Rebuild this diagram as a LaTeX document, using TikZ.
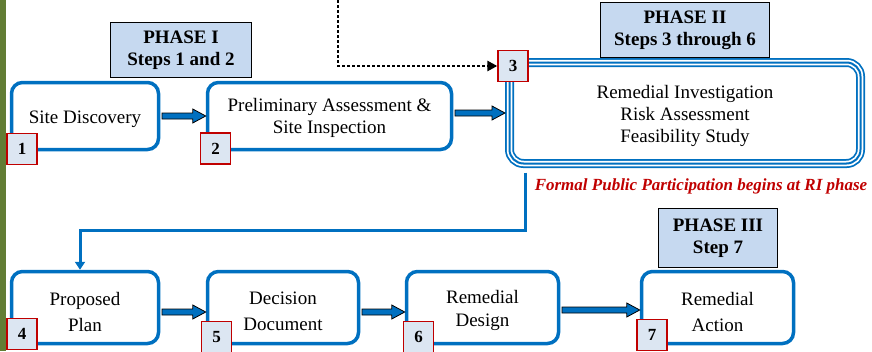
\documentclass[tikz,border=0pt]{standalone}
\usepackage{fontspec}
\setmainfont{Liberation Serif}
\usetikzlibrary{arrows.meta,calc}
\definecolor{stepblue}{RGB}{0,112,192}
\definecolor{phasefill}{RGB}{198,217,240}
\definecolor{tagfill}{RGB}{220,230,242}
\definecolor{tagred}{RGB}{192,0,0}
\definecolor{barolive}{RGB}{98,125,52}
\begin{document}
\begin{tikzpicture}[x=1pt,y=-1pt,
	every node/.style={font=\fontsize{19}{22}\selectfont, align=center, inner sep=0pt},
	stepbox/.style={shape=rectangle, rounded corners=11pt, draw=stepblue, line width=3.5pt, fill=white},
	lowbox/.style={stepbox, minimum height=72pt},
	lowtext/.style={font=\fontsize{19}{26}\selectfont},
	tagbox/.style={shape=rectangle, draw=tagred, line width=1.3pt, fill=tagfill,
		minimum width=30pt, minimum height=31pt, font=\fontsize{17}{20}\selectfont\bfseries},
	phasebox/.style={shape=rectangle, draw=black, line width=1.3pt, fill=phasefill,
		font=\fontsize{19}{22}\selectfont\bfseries},
	fatarrow/.style={draw=black, line width=0.8pt, fill=stepblue,
		to path={let \p1=(\tikztostart), \p2=(\tikztotarget) in
			(\x1,\y1+3pt) -- (\x2-13pt,\y1+3pt) -- (\x2-13pt,\y1+7pt) -- (\x2,\y1)
			-- (\x2-13pt,\y1-7pt) -- (\x2-13pt,\y1-3pt) -- (\x1,\y1-3pt) -- cycle}},
	link/.style={draw=stepblue, line width=3pt, -{Triangle[length=8pt,width=10pt]}},
	]
	\useasboundingbox (0,0) rectangle (872,351);
	\fill[barolive] (0,0) rectangle (6,351);

	% phase I
	\node (p1) [phasebox, minimum width=141pt, minimum height=55pt] at (181,50) {PHASE I\\Steps 1 and 2};
	\node (b1) [stepbox, minimum width=147pt, minimum height=67pt] at (85,116) {};
	\node (b1text) at ([yshift=-3pt]b1.center) {Site Discovery};
	\node (b2) [stepbox, minimum width=244pt, minimum height=67pt] at (329.5,116) {};
	\node (b2text) at ([yshift=-2pt]b2.center) {Preliminary Assessment \&\\Site Inspection};
	\node (t1) [tagbox] at (22,149) {1};
	\node (t2) [tagbox] at (215.5,148.5) {2};

	% phase II
	\node (p2) [phasebox, minimum width=169pt, minimum height=55pt] at (685,30) {PHASE II\\Steps 3 through 6};
	\node (b3) [shape=rectangle, rounded corners=14pt, minimum width=351pt, minimum height=101pt,
		draw=stepblue, line width=9pt, fill=white,
		postaction={draw=white, line width=5.5pt},
		postaction={draw=stepblue, line width=2pt}] at (685,113) {};
	\node (b3text) at ([yshift=-3pt]b3.center) {Remedial Investigation\\Risk Assessment\\Feasibility Study};
	\node (t3) [tagbox] at (513,66) {3};
	\node (note) [font=\fontsize{17}{20}\selectfont\bfseries\itshape, text=tagred] at (701,186)
		{Formal Public Participation begins at RI phase};

	\node (b4) [lowbox, minimum width=147pt] at (85,307.5) {};
	\node (b4text) [lowtext] at ([yshift=-4pt]b4.center) {Proposed\\Plan};
	\node (b5) [lowbox, minimum width=151pt] at (283,307.5) {};
	\node (b5text) [lowtext] at ([yshift=-4pt]b5.center) {Decision\\Document};
	\node (b6) [lowbox, minimum width=152pt] at (482.5,307.5) {};
	\node (b6text) [font=\fontsize{19}{23}\selectfont] at ([yshift=-3pt]b6.center) {Remedial\\Design};
	\node (t4) [tagbox] at (22,334) {4};
	\node (t5) [tagbox] at (216.5,337) {5};
	\node (t6) [tagbox] at (418.5,337) {6};

	% phase III
	\node (p3) [phasebox, minimum width=119pt, minimum height=59pt] at (718,238) {PHASE III\\Step 7};
	\node (b7) [lowbox, minimum width=152pt] at (717.5,307.5) {};
	\node (b7text) [lowtext] at ([yshift=-4pt]b7.center) {Remedial\\Action};
	\node (t7) [tagbox] at (652,335) {7};

	% connectors
	\coordinate (dotstart) at (338,0);
	\draw[line width=2.5pt, dash pattern=on 2.5pt off 2.5pt, -{Triangle[length=10pt,width=10pt]}]
		(dotstart) |- (t3.west);
	\draw[fatarrow] ([xshift=1.75pt]b1.east) to (b2.west);
	\draw[fatarrow] ([xshift=1.75pt,yshift=3pt]b2.east) to (b3.west);
	\draw[fatarrow] ([xshift=1.75pt,yshift=-4.5pt]b4.east) to (b5.west);
	\draw[fatarrow] ([xshift=1.75pt,yshift=-4.5pt]b5.east) to (b6.west);
	\draw[fatarrow] ([xshift=1.75pt,yshift=-2.5pt]b6.east) to (b7.west);
	\draw[link] ([xshift=-160pt,yshift=-4.5pt]b3.south) -- ++(0,57.5) -| ([xshift=-5pt]b4.north);
\end{tikzpicture}
\end{document}
